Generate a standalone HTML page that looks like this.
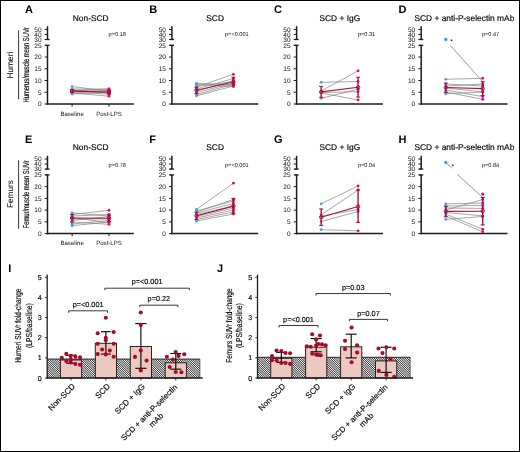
<!DOCTYPE html>
<html><head><meta charset="utf-8"><style>
html,body{margin:0;padding:0;background:#fff;}
svg{display:block;font-family:"Liberation Sans", sans-serif;will-change:transform;text-rendering:geometricPrecision;} text.b{stroke:#000;stroke-width:0.18px;} text.n{stroke:#000;stroke-width:0.08px;}
</style></head><body>
<svg width="520" height="452" viewBox="0 0 520 452">
<defs>
<pattern id="hatch" patternUnits="userSpaceOnUse" width="1.556" height="10" patternTransform="rotate(-45)">
<rect width="1.556" height="10" fill="#fff"/><rect width="0.68" height="10" fill="#111"/>
</pattern>
</defs>
<rect x="0" y="0" width="520" height="452" fill="#fff"/>
<line x1="47.50" y1="104.75" x2="47.50" y2="45.30" stroke="#1c1c1c" stroke-width="1.5" />
<line x1="45.40" y1="45.30" x2="49.60" y2="45.30" stroke="#1c1c1c" stroke-width="1.3" />
<line x1="47.50" y1="26.20" x2="47.50" y2="39.50" stroke="#1c1c1c" stroke-width="1.5" />
<line x1="45.40" y1="39.50" x2="49.60" y2="39.50" stroke="#1c1c1c" stroke-width="1.3" />
<line x1="44.60" y1="104.00" x2="47.50" y2="104.00" stroke="#1c1c1c" stroke-width="1.0" />
<text x="41.50" y="106.30" font-size="6.5" text-anchor="end" font-weight="normal" fill="#111" >0</text>
<line x1="44.60" y1="92.26" x2="47.50" y2="92.26" stroke="#1c1c1c" stroke-width="1.0" />
<text x="41.50" y="94.56" font-size="6.5" text-anchor="end" font-weight="normal" fill="#111" >5</text>
<line x1="44.60" y1="80.52" x2="47.50" y2="80.52" stroke="#1c1c1c" stroke-width="1.0" />
<text x="41.50" y="82.82" font-size="6.5" text-anchor="end" font-weight="normal" fill="#111" >10</text>
<line x1="44.60" y1="68.78" x2="47.50" y2="68.78" stroke="#1c1c1c" stroke-width="1.0" />
<text x="41.50" y="71.08" font-size="6.5" text-anchor="end" font-weight="normal" fill="#111" >15</text>
<line x1="44.60" y1="57.04" x2="47.50" y2="57.04" stroke="#1c1c1c" stroke-width="1.0" />
<text x="41.50" y="59.34" font-size="6.5" text-anchor="end" font-weight="normal" fill="#111" >20</text>
<line x1="44.60" y1="45.30" x2="47.50" y2="45.30" stroke="#1c1c1c" stroke-width="1.0" />
<text x="41.50" y="47.60" font-size="6.5" text-anchor="end" font-weight="normal" fill="#111" >25</text>
<line x1="44.60" y1="29.40" x2="47.50" y2="29.40" stroke="#1c1c1c" stroke-width="1.0" />
<text x="41.50" y="31.70" font-size="6.5" text-anchor="end" font-weight="normal" fill="#111" >50</text>
<line x1="44.60" y1="34.40" x2="47.50" y2="34.40" stroke="#1c1c1c" stroke-width="1.0" />
<text x="41.50" y="36.70" font-size="6.5" text-anchor="end" font-weight="normal" fill="#111" >40</text>
<line x1="44.60" y1="39.50" x2="47.50" y2="39.50" stroke="#1c1c1c" stroke-width="1.0" />
<text x="41.50" y="41.80" font-size="6.5" text-anchor="end" font-weight="normal" fill="#111" >30</text>
<line x1="46.75" y1="104.00" x2="133.80" y2="104.00" stroke="#1c1c1c" stroke-width="1.5" />
<line x1="72.10" y1="104.00" x2="72.10" y2="106.60" stroke="#1c1c1c" stroke-width="1.0" />
<line x1="109.00" y1="104.00" x2="109.00" y2="106.60" stroke="#1c1c1c" stroke-width="1.0" />
<text x="72.10" y="115.70" font-size="6.1" text-anchor="middle" font-weight="normal" fill="#111" >Baseline</text>
<text x="109.00" y="115.70" font-size="6.1" text-anchor="middle" font-weight="normal" fill="#111" >Post-LPS</text>
<text class="b" x="90.70" y="20.80" font-size="8.4" text-anchor="middle" font-weight="normal" fill="#111" >Non-SCD</text>
<text x="24.90" y="13.30" font-size="11.0" text-anchor="start" font-weight="bold" fill="#000" >A</text>
<text x="108.60" y="35.60" font-size="5.6" text-anchor="start" font-weight="normal" fill="#111" >p=0.18</text>
<line x1="72.10" y1="86.60" x2="109.00" y2="91.00" stroke="#7f8380" stroke-width="0.7" />
<line x1="72.10" y1="89.00" x2="109.00" y2="89.20" stroke="#7f8380" stroke-width="0.7" />
<line x1="72.10" y1="90.00" x2="109.00" y2="93.00" stroke="#7f8380" stroke-width="0.7" />
<line x1="72.10" y1="91.00" x2="109.00" y2="90.50" stroke="#7f8380" stroke-width="0.7" />
<line x1="72.10" y1="92.00" x2="109.00" y2="94.20" stroke="#7f8380" stroke-width="0.7" />
<line x1="72.10" y1="93.00" x2="109.00" y2="96.20" stroke="#7f8380" stroke-width="0.7" />
<line x1="72.10" y1="94.00" x2="109.00" y2="92.00" stroke="#7f8380" stroke-width="0.7" />
<line x1="72.10" y1="90.50" x2="109.00" y2="88.90" stroke="#7f8380" stroke-width="0.7" />
<circle cx="72.10" cy="86.60" r="1.4" fill="#4c9be0" stroke="none" stroke-width="0"/>
<circle cx="72.10" cy="89.00" r="1.4" fill="#4c9be0" stroke="none" stroke-width="0"/>
<circle cx="72.10" cy="90.00" r="1.4" fill="#4c9be0" stroke="none" stroke-width="0"/>
<circle cx="72.10" cy="91.00" r="1.4" fill="#4c9be0" stroke="none" stroke-width="0"/>
<circle cx="72.10" cy="92.00" r="1.4" fill="#4c9be0" stroke="none" stroke-width="0"/>
<circle cx="72.10" cy="93.00" r="1.4" fill="#4c9be0" stroke="none" stroke-width="0"/>
<circle cx="72.10" cy="94.00" r="1.4" fill="#4c9be0" stroke="none" stroke-width="0"/>
<circle cx="72.10" cy="90.50" r="1.4" fill="#4c9be0" stroke="none" stroke-width="0"/>
<circle cx="109.00" cy="91.00" r="1.4" fill="#cc0a78" stroke="none" stroke-width="0"/>
<circle cx="109.00" cy="89.20" r="1.4" fill="#cc0a78" stroke="none" stroke-width="0"/>
<circle cx="109.00" cy="93.00" r="1.4" fill="#cc0a78" stroke="none" stroke-width="0"/>
<circle cx="109.00" cy="90.50" r="1.4" fill="#cc0a78" stroke="none" stroke-width="0"/>
<circle cx="109.00" cy="94.20" r="1.4" fill="#cc0a78" stroke="none" stroke-width="0"/>
<circle cx="109.00" cy="96.20" r="1.4" fill="#cc0a78" stroke="none" stroke-width="0"/>
<circle cx="109.00" cy="92.00" r="1.4" fill="#cc0a78" stroke="none" stroke-width="0"/>
<circle cx="109.00" cy="88.90" r="1.4" fill="#cc0a78" stroke="none" stroke-width="0"/>
<line x1="72.10" y1="91.10" x2="109.00" y2="92.10" stroke="#b00e3a" stroke-width="1.15" />
<line x1="72.10" y1="89.60" x2="72.10" y2="92.60" stroke="#b00e3a" stroke-width="1.4" />
<line x1="70.10" y1="89.60" x2="74.10" y2="89.60" stroke="#b00e3a" stroke-width="1.1" />
<line x1="70.10" y1="92.60" x2="74.10" y2="92.60" stroke="#b00e3a" stroke-width="1.1" />
<circle cx="72.10" cy="91.10" r="1.7" fill="none" stroke="#b00e3a" stroke-width="1.0"/>
<line x1="109.00" y1="90.30" x2="109.00" y2="93.90" stroke="#b00e3a" stroke-width="1.4" />
<line x1="107.00" y1="90.30" x2="111.00" y2="90.30" stroke="#b00e3a" stroke-width="1.1" />
<line x1="107.00" y1="93.90" x2="111.00" y2="93.90" stroke="#b00e3a" stroke-width="1.1" />
<circle cx="109.00" cy="92.10" r="1.7" fill="none" stroke="#b00e3a" stroke-width="1.0"/>
<line x1="171.90" y1="104.75" x2="171.90" y2="45.30" stroke="#1c1c1c" stroke-width="1.5" />
<line x1="169.80" y1="45.30" x2="174.00" y2="45.30" stroke="#1c1c1c" stroke-width="1.3" />
<line x1="171.90" y1="26.20" x2="171.90" y2="39.50" stroke="#1c1c1c" stroke-width="1.5" />
<line x1="169.80" y1="39.50" x2="174.00" y2="39.50" stroke="#1c1c1c" stroke-width="1.3" />
<line x1="169.00" y1="104.00" x2="171.90" y2="104.00" stroke="#1c1c1c" stroke-width="1.0" />
<text x="165.90" y="106.30" font-size="6.5" text-anchor="end" font-weight="normal" fill="#111" >0</text>
<line x1="169.00" y1="92.26" x2="171.90" y2="92.26" stroke="#1c1c1c" stroke-width="1.0" />
<text x="165.90" y="94.56" font-size="6.5" text-anchor="end" font-weight="normal" fill="#111" >5</text>
<line x1="169.00" y1="80.52" x2="171.90" y2="80.52" stroke="#1c1c1c" stroke-width="1.0" />
<text x="165.90" y="82.82" font-size="6.5" text-anchor="end" font-weight="normal" fill="#111" >10</text>
<line x1="169.00" y1="68.78" x2="171.90" y2="68.78" stroke="#1c1c1c" stroke-width="1.0" />
<text x="165.90" y="71.08" font-size="6.5" text-anchor="end" font-weight="normal" fill="#111" >15</text>
<line x1="169.00" y1="57.04" x2="171.90" y2="57.04" stroke="#1c1c1c" stroke-width="1.0" />
<text x="165.90" y="59.34" font-size="6.5" text-anchor="end" font-weight="normal" fill="#111" >20</text>
<line x1="169.00" y1="45.30" x2="171.90" y2="45.30" stroke="#1c1c1c" stroke-width="1.0" />
<text x="165.90" y="47.60" font-size="6.5" text-anchor="end" font-weight="normal" fill="#111" >25</text>
<line x1="169.00" y1="29.40" x2="171.90" y2="29.40" stroke="#1c1c1c" stroke-width="1.0" />
<text x="165.90" y="31.70" font-size="6.5" text-anchor="end" font-weight="normal" fill="#111" >50</text>
<line x1="169.00" y1="34.40" x2="171.90" y2="34.40" stroke="#1c1c1c" stroke-width="1.0" />
<text x="165.90" y="36.70" font-size="6.5" text-anchor="end" font-weight="normal" fill="#111" >40</text>
<line x1="169.00" y1="39.50" x2="171.90" y2="39.50" stroke="#1c1c1c" stroke-width="1.0" />
<text x="165.90" y="41.80" font-size="6.5" text-anchor="end" font-weight="normal" fill="#111" >30</text>
<line x1="171.15" y1="104.00" x2="258.20" y2="104.00" stroke="#1c1c1c" stroke-width="1.5" />
<text class="b" x="215.10" y="20.80" font-size="8.4" text-anchor="middle" font-weight="normal" fill="#111" >SCD</text>
<text x="149.30" y="13.30" font-size="11.0" text-anchor="start" font-weight="bold" fill="#000" >B</text>
<text x="225.00" y="35.60" font-size="5.6" text-anchor="start" font-weight="normal" fill="#111" >p=&lt;0.001</text>
<line x1="196.50" y1="83.30" x2="233.40" y2="85.00" stroke="#7f8380" stroke-width="0.7" />
<line x1="196.50" y1="84.50" x2="233.40" y2="86.50" stroke="#7f8380" stroke-width="0.7" />
<line x1="196.50" y1="87.00" x2="233.40" y2="74.30" stroke="#7f8380" stroke-width="0.7" />
<line x1="196.50" y1="89.00" x2="233.40" y2="78.50" stroke="#7f8380" stroke-width="0.7" />
<line x1="196.50" y1="91.00" x2="233.40" y2="80.50" stroke="#7f8380" stroke-width="0.7" />
<line x1="196.50" y1="92.50" x2="233.40" y2="83.00" stroke="#7f8380" stroke-width="0.7" />
<line x1="196.50" y1="94.50" x2="233.40" y2="84.20" stroke="#7f8380" stroke-width="0.7" />
<line x1="196.50" y1="95.80" x2="233.40" y2="86.00" stroke="#7f8380" stroke-width="0.7" />
<line x1="196.50" y1="86.00" x2="233.40" y2="82.00" stroke="#7f8380" stroke-width="0.7" />
<circle cx="196.50" cy="83.30" r="1.4" fill="#4c9be0" stroke="none" stroke-width="0"/>
<circle cx="196.50" cy="84.50" r="1.4" fill="#4c9be0" stroke="none" stroke-width="0"/>
<circle cx="196.50" cy="87.00" r="1.4" fill="#4c9be0" stroke="none" stroke-width="0"/>
<circle cx="196.50" cy="89.00" r="1.4" fill="#4c9be0" stroke="none" stroke-width="0"/>
<circle cx="196.50" cy="91.00" r="1.4" fill="#4c9be0" stroke="none" stroke-width="0"/>
<circle cx="196.50" cy="92.50" r="1.4" fill="#4c9be0" stroke="none" stroke-width="0"/>
<circle cx="196.50" cy="94.50" r="1.4" fill="#4c9be0" stroke="none" stroke-width="0"/>
<circle cx="196.50" cy="95.80" r="1.4" fill="#4c9be0" stroke="none" stroke-width="0"/>
<circle cx="196.50" cy="86.00" r="1.4" fill="#4c9be0" stroke="none" stroke-width="0"/>
<circle cx="233.40" cy="85.00" r="1.4" fill="#cc0a78" stroke="none" stroke-width="0"/>
<circle cx="233.40" cy="86.50" r="1.4" fill="#cc0a78" stroke="none" stroke-width="0"/>
<circle cx="233.40" cy="74.30" r="1.4" fill="#cc0a78" stroke="none" stroke-width="0"/>
<circle cx="233.40" cy="78.50" r="1.4" fill="#cc0a78" stroke="none" stroke-width="0"/>
<circle cx="233.40" cy="80.50" r="1.4" fill="#cc0a78" stroke="none" stroke-width="0"/>
<circle cx="233.40" cy="83.00" r="1.4" fill="#cc0a78" stroke="none" stroke-width="0"/>
<circle cx="233.40" cy="84.20" r="1.4" fill="#cc0a78" stroke="none" stroke-width="0"/>
<circle cx="233.40" cy="86.00" r="1.4" fill="#cc0a78" stroke="none" stroke-width="0"/>
<circle cx="233.40" cy="82.00" r="1.4" fill="#cc0a78" stroke="none" stroke-width="0"/>
<line x1="196.50" y1="90.20" x2="233.40" y2="82.00" stroke="#b00e3a" stroke-width="1.15" />
<line x1="196.50" y1="87.30" x2="196.50" y2="93.60" stroke="#b00e3a" stroke-width="1.4" />
<line x1="194.50" y1="87.30" x2="198.50" y2="87.30" stroke="#b00e3a" stroke-width="1.1" />
<line x1="194.50" y1="93.60" x2="198.50" y2="93.60" stroke="#b00e3a" stroke-width="1.1" />
<circle cx="196.50" cy="90.20" r="1.7" fill="none" stroke="#b00e3a" stroke-width="1.0"/>
<line x1="233.40" y1="77.20" x2="233.40" y2="84.90" stroke="#b00e3a" stroke-width="1.4" />
<line x1="231.40" y1="77.20" x2="235.40" y2="77.20" stroke="#b00e3a" stroke-width="1.1" />
<line x1="231.40" y1="84.90" x2="235.40" y2="84.90" stroke="#b00e3a" stroke-width="1.1" />
<circle cx="233.40" cy="82.00" r="1.7" fill="none" stroke="#b00e3a" stroke-width="1.0"/>
<line x1="296.60" y1="104.75" x2="296.60" y2="45.30" stroke="#1c1c1c" stroke-width="1.5" />
<line x1="294.50" y1="45.30" x2="298.70" y2="45.30" stroke="#1c1c1c" stroke-width="1.3" />
<line x1="296.60" y1="26.20" x2="296.60" y2="39.50" stroke="#1c1c1c" stroke-width="1.5" />
<line x1="294.50" y1="39.50" x2="298.70" y2="39.50" stroke="#1c1c1c" stroke-width="1.3" />
<line x1="293.70" y1="104.00" x2="296.60" y2="104.00" stroke="#1c1c1c" stroke-width="1.0" />
<text x="290.60" y="106.30" font-size="6.5" text-anchor="end" font-weight="normal" fill="#111" >0</text>
<line x1="293.70" y1="92.26" x2="296.60" y2="92.26" stroke="#1c1c1c" stroke-width="1.0" />
<text x="290.60" y="94.56" font-size="6.5" text-anchor="end" font-weight="normal" fill="#111" >5</text>
<line x1="293.70" y1="80.52" x2="296.60" y2="80.52" stroke="#1c1c1c" stroke-width="1.0" />
<text x="290.60" y="82.82" font-size="6.5" text-anchor="end" font-weight="normal" fill="#111" >10</text>
<line x1="293.70" y1="68.78" x2="296.60" y2="68.78" stroke="#1c1c1c" stroke-width="1.0" />
<text x="290.60" y="71.08" font-size="6.5" text-anchor="end" font-weight="normal" fill="#111" >15</text>
<line x1="293.70" y1="57.04" x2="296.60" y2="57.04" stroke="#1c1c1c" stroke-width="1.0" />
<text x="290.60" y="59.34" font-size="6.5" text-anchor="end" font-weight="normal" fill="#111" >20</text>
<line x1="293.70" y1="45.30" x2="296.60" y2="45.30" stroke="#1c1c1c" stroke-width="1.0" />
<text x="290.60" y="47.60" font-size="6.5" text-anchor="end" font-weight="normal" fill="#111" >25</text>
<line x1="293.70" y1="29.40" x2="296.60" y2="29.40" stroke="#1c1c1c" stroke-width="1.0" />
<text x="290.60" y="31.70" font-size="6.5" text-anchor="end" font-weight="normal" fill="#111" >50</text>
<line x1="293.70" y1="34.40" x2="296.60" y2="34.40" stroke="#1c1c1c" stroke-width="1.0" />
<text x="290.60" y="36.70" font-size="6.5" text-anchor="end" font-weight="normal" fill="#111" >40</text>
<line x1="293.70" y1="39.50" x2="296.60" y2="39.50" stroke="#1c1c1c" stroke-width="1.0" />
<text x="290.60" y="41.80" font-size="6.5" text-anchor="end" font-weight="normal" fill="#111" >30</text>
<line x1="295.85" y1="104.00" x2="382.90" y2="104.00" stroke="#1c1c1c" stroke-width="1.5" />
<text class="b" x="339.80" y="20.80" font-size="8.4" text-anchor="middle" font-weight="normal" fill="#111" >SCD + IgG</text>
<text x="274.00" y="13.30" font-size="11.0" text-anchor="start" font-weight="bold" fill="#000" >C</text>
<text x="357.90" y="35.60" font-size="5.6" text-anchor="start" font-weight="normal" fill="#111" >p=0.31</text>
<line x1="321.20" y1="82.30" x2="358.10" y2="81.50" stroke="#7f8380" stroke-width="0.7" />
<line x1="321.20" y1="91.00" x2="358.10" y2="70.80" stroke="#7f8380" stroke-width="0.7" />
<line x1="321.20" y1="98.30" x2="358.10" y2="89.20" stroke="#7f8380" stroke-width="0.7" />
<line x1="321.20" y1="93.00" x2="358.10" y2="100.00" stroke="#7f8380" stroke-width="0.7" />
<line x1="321.20" y1="92.50" x2="358.10" y2="91.70" stroke="#7f8380" stroke-width="0.7" />
<circle cx="321.20" cy="82.30" r="1.4" fill="#4c9be0" stroke="none" stroke-width="0"/>
<circle cx="321.20" cy="91.00" r="1.4" fill="#4c9be0" stroke="none" stroke-width="0"/>
<circle cx="321.20" cy="98.30" r="1.4" fill="#4c9be0" stroke="none" stroke-width="0"/>
<circle cx="321.20" cy="93.00" r="1.4" fill="#4c9be0" stroke="none" stroke-width="0"/>
<circle cx="321.20" cy="92.50" r="1.4" fill="#4c9be0" stroke="none" stroke-width="0"/>
<circle cx="358.10" cy="81.50" r="1.4" fill="#cc0a78" stroke="none" stroke-width="0"/>
<circle cx="358.10" cy="70.80" r="1.4" fill="#cc0a78" stroke="none" stroke-width="0"/>
<circle cx="358.10" cy="89.20" r="1.4" fill="#cc0a78" stroke="none" stroke-width="0"/>
<circle cx="358.10" cy="100.00" r="1.4" fill="#cc0a78" stroke="none" stroke-width="0"/>
<circle cx="358.10" cy="91.70" r="1.4" fill="#cc0a78" stroke="none" stroke-width="0"/>
<line x1="321.20" y1="91.90" x2="358.10" y2="87.30" stroke="#b00e3a" stroke-width="1.15" />
<line x1="321.20" y1="86.40" x2="321.20" y2="97.30" stroke="#b00e3a" stroke-width="1.4" />
<line x1="319.20" y1="86.40" x2="323.20" y2="86.40" stroke="#b00e3a" stroke-width="1.1" />
<line x1="319.20" y1="97.30" x2="323.20" y2="97.30" stroke="#b00e3a" stroke-width="1.1" />
<circle cx="321.20" cy="91.90" r="1.7" fill="none" stroke="#b00e3a" stroke-width="1.0"/>
<line x1="358.10" y1="77.30" x2="358.10" y2="97.10" stroke="#b00e3a" stroke-width="1.4" />
<line x1="356.10" y1="77.30" x2="360.10" y2="77.30" stroke="#b00e3a" stroke-width="1.1" />
<line x1="356.10" y1="97.10" x2="360.10" y2="97.10" stroke="#b00e3a" stroke-width="1.1" />
<circle cx="358.10" cy="87.30" r="1.7" fill="none" stroke="#b00e3a" stroke-width="1.0"/>
<line x1="421.20" y1="104.75" x2="421.20" y2="45.30" stroke="#1c1c1c" stroke-width="1.5" />
<line x1="419.10" y1="45.30" x2="423.30" y2="45.30" stroke="#1c1c1c" stroke-width="1.3" />
<line x1="421.20" y1="26.20" x2="421.20" y2="39.50" stroke="#1c1c1c" stroke-width="1.5" />
<line x1="419.10" y1="39.50" x2="423.30" y2="39.50" stroke="#1c1c1c" stroke-width="1.3" />
<line x1="418.30" y1="104.00" x2="421.20" y2="104.00" stroke="#1c1c1c" stroke-width="1.0" />
<text x="415.20" y="106.30" font-size="6.5" text-anchor="end" font-weight="normal" fill="#111" >0</text>
<line x1="418.30" y1="92.26" x2="421.20" y2="92.26" stroke="#1c1c1c" stroke-width="1.0" />
<text x="415.20" y="94.56" font-size="6.5" text-anchor="end" font-weight="normal" fill="#111" >5</text>
<line x1="418.30" y1="80.52" x2="421.20" y2="80.52" stroke="#1c1c1c" stroke-width="1.0" />
<text x="415.20" y="82.82" font-size="6.5" text-anchor="end" font-weight="normal" fill="#111" >10</text>
<line x1="418.30" y1="68.78" x2="421.20" y2="68.78" stroke="#1c1c1c" stroke-width="1.0" />
<text x="415.20" y="71.08" font-size="6.5" text-anchor="end" font-weight="normal" fill="#111" >15</text>
<line x1="418.30" y1="57.04" x2="421.20" y2="57.04" stroke="#1c1c1c" stroke-width="1.0" />
<text x="415.20" y="59.34" font-size="6.5" text-anchor="end" font-weight="normal" fill="#111" >20</text>
<line x1="418.30" y1="45.30" x2="421.20" y2="45.30" stroke="#1c1c1c" stroke-width="1.0" />
<text x="415.20" y="47.60" font-size="6.5" text-anchor="end" font-weight="normal" fill="#111" >25</text>
<line x1="418.30" y1="29.40" x2="421.20" y2="29.40" stroke="#1c1c1c" stroke-width="1.0" />
<text x="415.20" y="31.70" font-size="6.5" text-anchor="end" font-weight="normal" fill="#111" >50</text>
<line x1="418.30" y1="34.40" x2="421.20" y2="34.40" stroke="#1c1c1c" stroke-width="1.0" />
<text x="415.20" y="36.70" font-size="6.5" text-anchor="end" font-weight="normal" fill="#111" >40</text>
<line x1="418.30" y1="39.50" x2="421.20" y2="39.50" stroke="#1c1c1c" stroke-width="1.0" />
<text x="415.20" y="41.80" font-size="6.5" text-anchor="end" font-weight="normal" fill="#111" >30</text>
<line x1="420.45" y1="104.00" x2="507.50" y2="104.00" stroke="#1c1c1c" stroke-width="1.5" />
<text class="b" x="464.40" y="20.80" font-size="8.4" text-anchor="middle" font-weight="normal" fill="#111" >SCD + anti-P-selectin mAb</text>
<text x="398.60" y="13.30" font-size="11.0" text-anchor="start" font-weight="bold" fill="#000" >D</text>
<text x="481.90" y="35.60" font-size="5.6" text-anchor="start" font-weight="normal" fill="#111" >p=0.47</text>
<line x1="450.23" y1="45.30" x2="482.70" y2="81.70" stroke="#7f8380" stroke-width="0.8" />
<circle cx="445.80" cy="39.50" r="1.7" fill="#4c9be0" stroke="none" stroke-width="0"/>
<text x="451.60" y="42.60" font-size="5.5" text-anchor="middle" font-weight="bold" fill="#000" >*</text>
<line x1="445.80" y1="79.30" x2="482.70" y2="78.30" stroke="#7f8380" stroke-width="0.7" />
<line x1="445.80" y1="84.00" x2="482.70" y2="86.00" stroke="#7f8380" stroke-width="0.7" />
<line x1="445.80" y1="86.00" x2="482.70" y2="84.00" stroke="#7f8380" stroke-width="0.7" />
<line x1="445.80" y1="88.00" x2="482.70" y2="91.80" stroke="#7f8380" stroke-width="0.7" />
<line x1="445.80" y1="90.00" x2="482.70" y2="96.60" stroke="#7f8380" stroke-width="0.7" />
<line x1="445.80" y1="92.00" x2="482.70" y2="99.30" stroke="#7f8380" stroke-width="0.7" />
<line x1="445.80" y1="93.70" x2="482.70" y2="92.00" stroke="#7f8380" stroke-width="0.7" />
<circle cx="445.80" cy="79.30" r="1.4" fill="#4c9be0" stroke="none" stroke-width="0"/>
<circle cx="445.80" cy="84.00" r="1.4" fill="#4c9be0" stroke="none" stroke-width="0"/>
<circle cx="445.80" cy="86.00" r="1.4" fill="#4c9be0" stroke="none" stroke-width="0"/>
<circle cx="445.80" cy="88.00" r="1.4" fill="#4c9be0" stroke="none" stroke-width="0"/>
<circle cx="445.80" cy="90.00" r="1.4" fill="#4c9be0" stroke="none" stroke-width="0"/>
<circle cx="445.80" cy="92.00" r="1.4" fill="#4c9be0" stroke="none" stroke-width="0"/>
<circle cx="445.80" cy="93.70" r="1.4" fill="#4c9be0" stroke="none" stroke-width="0"/>
<circle cx="482.70" cy="78.30" r="1.4" fill="#cc0a78" stroke="none" stroke-width="0"/>
<circle cx="482.70" cy="86.00" r="1.4" fill="#cc0a78" stroke="none" stroke-width="0"/>
<circle cx="482.70" cy="84.00" r="1.4" fill="#cc0a78" stroke="none" stroke-width="0"/>
<circle cx="482.70" cy="91.80" r="1.4" fill="#cc0a78" stroke="none" stroke-width="0"/>
<circle cx="482.70" cy="96.60" r="1.4" fill="#cc0a78" stroke="none" stroke-width="0"/>
<circle cx="482.70" cy="99.30" r="1.4" fill="#cc0a78" stroke="none" stroke-width="0"/>
<circle cx="482.70" cy="92.00" r="1.4" fill="#cc0a78" stroke="none" stroke-width="0"/>
<line x1="445.80" y1="87.50" x2="482.70" y2="88.60" stroke="#b00e3a" stroke-width="1.15" />
<line x1="445.80" y1="83.10" x2="445.80" y2="92.30" stroke="#b00e3a" stroke-width="1.4" />
<line x1="443.80" y1="83.10" x2="447.80" y2="83.10" stroke="#b00e3a" stroke-width="1.1" />
<line x1="443.80" y1="92.30" x2="447.80" y2="92.30" stroke="#b00e3a" stroke-width="1.1" />
<circle cx="445.80" cy="87.50" r="1.7" fill="none" stroke="#b00e3a" stroke-width="1.0"/>
<line x1="482.70" y1="81.70" x2="482.70" y2="95.50" stroke="#b00e3a" stroke-width="1.4" />
<line x1="480.70" y1="81.70" x2="484.70" y2="81.70" stroke="#b00e3a" stroke-width="1.1" />
<line x1="480.70" y1="95.50" x2="484.70" y2="95.50" stroke="#b00e3a" stroke-width="1.1" />
<circle cx="482.70" cy="88.60" r="1.7" fill="none" stroke="#b00e3a" stroke-width="1.0"/>
<line x1="47.50" y1="234.35" x2="47.50" y2="174.90" stroke="#1c1c1c" stroke-width="1.5" />
<line x1="45.40" y1="174.90" x2="49.60" y2="174.90" stroke="#1c1c1c" stroke-width="1.3" />
<line x1="47.50" y1="155.80" x2="47.50" y2="169.10" stroke="#1c1c1c" stroke-width="1.5" />
<line x1="45.40" y1="169.10" x2="49.60" y2="169.10" stroke="#1c1c1c" stroke-width="1.3" />
<line x1="44.60" y1="233.60" x2="47.50" y2="233.60" stroke="#1c1c1c" stroke-width="1.0" />
<text x="41.50" y="235.90" font-size="6.5" text-anchor="end" font-weight="normal" fill="#111" >0</text>
<line x1="44.60" y1="221.86" x2="47.50" y2="221.86" stroke="#1c1c1c" stroke-width="1.0" />
<text x="41.50" y="224.16" font-size="6.5" text-anchor="end" font-weight="normal" fill="#111" >5</text>
<line x1="44.60" y1="210.12" x2="47.50" y2="210.12" stroke="#1c1c1c" stroke-width="1.0" />
<text x="41.50" y="212.42" font-size="6.5" text-anchor="end" font-weight="normal" fill="#111" >10</text>
<line x1="44.60" y1="198.38" x2="47.50" y2="198.38" stroke="#1c1c1c" stroke-width="1.0" />
<text x="41.50" y="200.68" font-size="6.5" text-anchor="end" font-weight="normal" fill="#111" >15</text>
<line x1="44.60" y1="186.64" x2="47.50" y2="186.64" stroke="#1c1c1c" stroke-width="1.0" />
<text x="41.50" y="188.94" font-size="6.5" text-anchor="end" font-weight="normal" fill="#111" >20</text>
<line x1="44.60" y1="174.90" x2="47.50" y2="174.90" stroke="#1c1c1c" stroke-width="1.0" />
<text x="41.50" y="177.20" font-size="6.5" text-anchor="end" font-weight="normal" fill="#111" >25</text>
<line x1="44.60" y1="159.00" x2="47.50" y2="159.00" stroke="#1c1c1c" stroke-width="1.0" />
<text x="41.50" y="161.30" font-size="6.5" text-anchor="end" font-weight="normal" fill="#111" >50</text>
<line x1="44.60" y1="164.00" x2="47.50" y2="164.00" stroke="#1c1c1c" stroke-width="1.0" />
<text x="41.50" y="166.30" font-size="6.5" text-anchor="end" font-weight="normal" fill="#111" >40</text>
<line x1="44.60" y1="169.10" x2="47.50" y2="169.10" stroke="#1c1c1c" stroke-width="1.0" />
<text x="41.50" y="171.40" font-size="6.5" text-anchor="end" font-weight="normal" fill="#111" >30</text>
<line x1="46.75" y1="233.60" x2="133.80" y2="233.60" stroke="#1c1c1c" stroke-width="1.5" />
<line x1="72.10" y1="233.60" x2="72.10" y2="236.20" stroke="#1c1c1c" stroke-width="1.0" />
<line x1="109.00" y1="233.60" x2="109.00" y2="236.20" stroke="#1c1c1c" stroke-width="1.0" />
<text x="72.10" y="245.30" font-size="6.1" text-anchor="middle" font-weight="normal" fill="#111" >Baseline</text>
<text x="109.00" y="245.30" font-size="6.1" text-anchor="middle" font-weight="normal" fill="#111" >Post-LPS</text>
<text class="b" x="90.70" y="150.40" font-size="8.4" text-anchor="middle" font-weight="normal" fill="#111" >Non-SCD</text>
<text x="24.90" y="142.90" font-size="11.0" text-anchor="start" font-weight="bold" fill="#000" >E</text>
<text x="108.60" y="166.60" font-size="5.6" text-anchor="start" font-weight="normal" fill="#111" >p=0.78</text>
<line x1="72.10" y1="212.90" x2="109.00" y2="216.00" stroke="#7f8380" stroke-width="0.7" />
<line x1="72.10" y1="214.50" x2="109.00" y2="210.30" stroke="#7f8380" stroke-width="0.7" />
<line x1="72.10" y1="216.00" x2="109.00" y2="214.50" stroke="#7f8380" stroke-width="0.7" />
<line x1="72.10" y1="217.50" x2="109.00" y2="222.80" stroke="#7f8380" stroke-width="0.7" />
<line x1="72.10" y1="219.00" x2="109.00" y2="219.00" stroke="#7f8380" stroke-width="0.7" />
<line x1="72.10" y1="220.50" x2="109.00" y2="216.50" stroke="#7f8380" stroke-width="0.7" />
<line x1="72.10" y1="222.00" x2="109.00" y2="224.30" stroke="#7f8380" stroke-width="0.7" />
<line x1="72.10" y1="224.00" x2="109.00" y2="220.50" stroke="#7f8380" stroke-width="0.7" />
<line x1="72.10" y1="225.70" x2="109.00" y2="222.00" stroke="#7f8380" stroke-width="0.7" />
<circle cx="72.10" cy="212.90" r="1.4" fill="#4c9be0" stroke="none" stroke-width="0"/>
<circle cx="72.10" cy="214.50" r="1.4" fill="#4c9be0" stroke="none" stroke-width="0"/>
<circle cx="72.10" cy="216.00" r="1.4" fill="#4c9be0" stroke="none" stroke-width="0"/>
<circle cx="72.10" cy="217.50" r="1.4" fill="#4c9be0" stroke="none" stroke-width="0"/>
<circle cx="72.10" cy="219.00" r="1.4" fill="#4c9be0" stroke="none" stroke-width="0"/>
<circle cx="72.10" cy="220.50" r="1.4" fill="#4c9be0" stroke="none" stroke-width="0"/>
<circle cx="72.10" cy="222.00" r="1.4" fill="#4c9be0" stroke="none" stroke-width="0"/>
<circle cx="72.10" cy="224.00" r="1.4" fill="#4c9be0" stroke="none" stroke-width="0"/>
<circle cx="72.10" cy="225.70" r="1.4" fill="#4c9be0" stroke="none" stroke-width="0"/>
<circle cx="109.00" cy="216.00" r="1.4" fill="#cc0a78" stroke="none" stroke-width="0"/>
<circle cx="109.00" cy="210.30" r="1.4" fill="#cc0a78" stroke="none" stroke-width="0"/>
<circle cx="109.00" cy="214.50" r="1.4" fill="#cc0a78" stroke="none" stroke-width="0"/>
<circle cx="109.00" cy="222.80" r="1.4" fill="#cc0a78" stroke="none" stroke-width="0"/>
<circle cx="109.00" cy="219.00" r="1.4" fill="#cc0a78" stroke="none" stroke-width="0"/>
<circle cx="109.00" cy="216.50" r="1.4" fill="#cc0a78" stroke="none" stroke-width="0"/>
<circle cx="109.00" cy="224.30" r="1.4" fill="#cc0a78" stroke="none" stroke-width="0"/>
<circle cx="109.00" cy="220.50" r="1.4" fill="#cc0a78" stroke="none" stroke-width="0"/>
<circle cx="109.00" cy="222.00" r="1.4" fill="#cc0a78" stroke="none" stroke-width="0"/>
<line x1="72.10" y1="218.00" x2="109.00" y2="218.30" stroke="#b00e3a" stroke-width="1.15" />
<line x1="72.10" y1="214.50" x2="72.10" y2="221.90" stroke="#b00e3a" stroke-width="1.4" />
<line x1="70.10" y1="214.50" x2="74.10" y2="214.50" stroke="#b00e3a" stroke-width="1.1" />
<line x1="70.10" y1="221.90" x2="74.10" y2="221.90" stroke="#b00e3a" stroke-width="1.1" />
<circle cx="72.10" cy="218.00" r="1.7" fill="none" stroke="#b00e3a" stroke-width="1.0"/>
<line x1="109.00" y1="215.00" x2="109.00" y2="221.60" stroke="#b00e3a" stroke-width="1.4" />
<line x1="107.00" y1="215.00" x2="111.00" y2="215.00" stroke="#b00e3a" stroke-width="1.1" />
<line x1="107.00" y1="221.60" x2="111.00" y2="221.60" stroke="#b00e3a" stroke-width="1.1" />
<circle cx="109.00" cy="218.30" r="1.7" fill="none" stroke="#b00e3a" stroke-width="1.0"/>
<line x1="171.90" y1="234.35" x2="171.90" y2="174.90" stroke="#1c1c1c" stroke-width="1.5" />
<line x1="169.80" y1="174.90" x2="174.00" y2="174.90" stroke="#1c1c1c" stroke-width="1.3" />
<line x1="171.90" y1="155.80" x2="171.90" y2="169.10" stroke="#1c1c1c" stroke-width="1.5" />
<line x1="169.80" y1="169.10" x2="174.00" y2="169.10" stroke="#1c1c1c" stroke-width="1.3" />
<line x1="169.00" y1="233.60" x2="171.90" y2="233.60" stroke="#1c1c1c" stroke-width="1.0" />
<text x="165.90" y="235.90" font-size="6.5" text-anchor="end" font-weight="normal" fill="#111" >0</text>
<line x1="169.00" y1="221.86" x2="171.90" y2="221.86" stroke="#1c1c1c" stroke-width="1.0" />
<text x="165.90" y="224.16" font-size="6.5" text-anchor="end" font-weight="normal" fill="#111" >5</text>
<line x1="169.00" y1="210.12" x2="171.90" y2="210.12" stroke="#1c1c1c" stroke-width="1.0" />
<text x="165.90" y="212.42" font-size="6.5" text-anchor="end" font-weight="normal" fill="#111" >10</text>
<line x1="169.00" y1="198.38" x2="171.90" y2="198.38" stroke="#1c1c1c" stroke-width="1.0" />
<text x="165.90" y="200.68" font-size="6.5" text-anchor="end" font-weight="normal" fill="#111" >15</text>
<line x1="169.00" y1="186.64" x2="171.90" y2="186.64" stroke="#1c1c1c" stroke-width="1.0" />
<text x="165.90" y="188.94" font-size="6.5" text-anchor="end" font-weight="normal" fill="#111" >20</text>
<line x1="169.00" y1="174.90" x2="171.90" y2="174.90" stroke="#1c1c1c" stroke-width="1.0" />
<text x="165.90" y="177.20" font-size="6.5" text-anchor="end" font-weight="normal" fill="#111" >25</text>
<line x1="169.00" y1="159.00" x2="171.90" y2="159.00" stroke="#1c1c1c" stroke-width="1.0" />
<text x="165.90" y="161.30" font-size="6.5" text-anchor="end" font-weight="normal" fill="#111" >50</text>
<line x1="169.00" y1="164.00" x2="171.90" y2="164.00" stroke="#1c1c1c" stroke-width="1.0" />
<text x="165.90" y="166.30" font-size="6.5" text-anchor="end" font-weight="normal" fill="#111" >40</text>
<line x1="169.00" y1="169.10" x2="171.90" y2="169.10" stroke="#1c1c1c" stroke-width="1.0" />
<text x="165.90" y="171.40" font-size="6.5" text-anchor="end" font-weight="normal" fill="#111" >30</text>
<line x1="171.15" y1="233.60" x2="258.20" y2="233.60" stroke="#1c1c1c" stroke-width="1.5" />
<text class="b" x="215.10" y="150.40" font-size="8.4" text-anchor="middle" font-weight="normal" fill="#111" >SCD</text>
<text x="149.30" y="142.90" font-size="11.0" text-anchor="start" font-weight="bold" fill="#000" >F</text>
<text x="225.00" y="166.60" font-size="5.6" text-anchor="start" font-weight="normal" fill="#111" >p=&lt;0.001</text>
<line x1="196.50" y1="209.40" x2="233.40" y2="183.20" stroke="#7f8380" stroke-width="0.7" />
<line x1="196.50" y1="211.00" x2="233.40" y2="201.00" stroke="#7f8380" stroke-width="0.7" />
<line x1="196.50" y1="213.00" x2="233.40" y2="203.50" stroke="#7f8380" stroke-width="0.7" />
<line x1="196.50" y1="214.50" x2="233.40" y2="206.00" stroke="#7f8380" stroke-width="0.7" />
<line x1="196.50" y1="216.50" x2="233.40" y2="208.00" stroke="#7f8380" stroke-width="0.7" />
<line x1="196.50" y1="218.00" x2="233.40" y2="210.00" stroke="#7f8380" stroke-width="0.7" />
<line x1="196.50" y1="219.50" x2="233.40" y2="212.00" stroke="#7f8380" stroke-width="0.7" />
<line x1="196.50" y1="221.00" x2="233.40" y2="214.00" stroke="#7f8380" stroke-width="0.7" />
<line x1="196.50" y1="212.00" x2="233.40" y2="199.50" stroke="#7f8380" stroke-width="0.7" />
<circle cx="196.50" cy="209.40" r="1.4" fill="#4c9be0" stroke="none" stroke-width="0"/>
<circle cx="196.50" cy="211.00" r="1.4" fill="#4c9be0" stroke="none" stroke-width="0"/>
<circle cx="196.50" cy="213.00" r="1.4" fill="#4c9be0" stroke="none" stroke-width="0"/>
<circle cx="196.50" cy="214.50" r="1.4" fill="#4c9be0" stroke="none" stroke-width="0"/>
<circle cx="196.50" cy="216.50" r="1.4" fill="#4c9be0" stroke="none" stroke-width="0"/>
<circle cx="196.50" cy="218.00" r="1.4" fill="#4c9be0" stroke="none" stroke-width="0"/>
<circle cx="196.50" cy="219.50" r="1.4" fill="#4c9be0" stroke="none" stroke-width="0"/>
<circle cx="196.50" cy="221.00" r="1.4" fill="#4c9be0" stroke="none" stroke-width="0"/>
<circle cx="196.50" cy="212.00" r="1.4" fill="#4c9be0" stroke="none" stroke-width="0"/>
<circle cx="233.40" cy="183.20" r="1.4" fill="#cc0a78" stroke="none" stroke-width="0"/>
<circle cx="233.40" cy="201.00" r="1.4" fill="#cc0a78" stroke="none" stroke-width="0"/>
<circle cx="233.40" cy="203.50" r="1.4" fill="#cc0a78" stroke="none" stroke-width="0"/>
<circle cx="233.40" cy="206.00" r="1.4" fill="#cc0a78" stroke="none" stroke-width="0"/>
<circle cx="233.40" cy="208.00" r="1.4" fill="#cc0a78" stroke="none" stroke-width="0"/>
<circle cx="233.40" cy="210.00" r="1.4" fill="#cc0a78" stroke="none" stroke-width="0"/>
<circle cx="233.40" cy="212.00" r="1.4" fill="#cc0a78" stroke="none" stroke-width="0"/>
<circle cx="233.40" cy="214.00" r="1.4" fill="#cc0a78" stroke="none" stroke-width="0"/>
<circle cx="233.40" cy="199.50" r="1.4" fill="#cc0a78" stroke="none" stroke-width="0"/>
<line x1="196.50" y1="215.70" x2="233.40" y2="206.10" stroke="#b00e3a" stroke-width="1.15" />
<line x1="196.50" y1="212.30" x2="196.50" y2="219.50" stroke="#b00e3a" stroke-width="1.4" />
<line x1="194.50" y1="212.30" x2="198.50" y2="212.30" stroke="#b00e3a" stroke-width="1.1" />
<line x1="194.50" y1="219.50" x2="198.50" y2="219.50" stroke="#b00e3a" stroke-width="1.1" />
<circle cx="196.50" cy="215.70" r="1.7" fill="none" stroke="#b00e3a" stroke-width="1.0"/>
<line x1="233.40" y1="198.40" x2="233.40" y2="213.60" stroke="#b00e3a" stroke-width="1.4" />
<line x1="231.40" y1="198.40" x2="235.40" y2="198.40" stroke="#b00e3a" stroke-width="1.1" />
<line x1="231.40" y1="213.60" x2="235.40" y2="213.60" stroke="#b00e3a" stroke-width="1.1" />
<circle cx="233.40" cy="206.10" r="1.7" fill="none" stroke="#b00e3a" stroke-width="1.0"/>
<line x1="296.60" y1="234.35" x2="296.60" y2="174.90" stroke="#1c1c1c" stroke-width="1.5" />
<line x1="294.50" y1="174.90" x2="298.70" y2="174.90" stroke="#1c1c1c" stroke-width="1.3" />
<line x1="296.60" y1="155.80" x2="296.60" y2="169.10" stroke="#1c1c1c" stroke-width="1.5" />
<line x1="294.50" y1="169.10" x2="298.70" y2="169.10" stroke="#1c1c1c" stroke-width="1.3" />
<line x1="293.70" y1="233.60" x2="296.60" y2="233.60" stroke="#1c1c1c" stroke-width="1.0" />
<text x="290.60" y="235.90" font-size="6.5" text-anchor="end" font-weight="normal" fill="#111" >0</text>
<line x1="293.70" y1="221.86" x2="296.60" y2="221.86" stroke="#1c1c1c" stroke-width="1.0" />
<text x="290.60" y="224.16" font-size="6.5" text-anchor="end" font-weight="normal" fill="#111" >5</text>
<line x1="293.70" y1="210.12" x2="296.60" y2="210.12" stroke="#1c1c1c" stroke-width="1.0" />
<text x="290.60" y="212.42" font-size="6.5" text-anchor="end" font-weight="normal" fill="#111" >10</text>
<line x1="293.70" y1="198.38" x2="296.60" y2="198.38" stroke="#1c1c1c" stroke-width="1.0" />
<text x="290.60" y="200.68" font-size="6.5" text-anchor="end" font-weight="normal" fill="#111" >15</text>
<line x1="293.70" y1="186.64" x2="296.60" y2="186.64" stroke="#1c1c1c" stroke-width="1.0" />
<text x="290.60" y="188.94" font-size="6.5" text-anchor="end" font-weight="normal" fill="#111" >20</text>
<line x1="293.70" y1="174.90" x2="296.60" y2="174.90" stroke="#1c1c1c" stroke-width="1.0" />
<text x="290.60" y="177.20" font-size="6.5" text-anchor="end" font-weight="normal" fill="#111" >25</text>
<line x1="293.70" y1="159.00" x2="296.60" y2="159.00" stroke="#1c1c1c" stroke-width="1.0" />
<text x="290.60" y="161.30" font-size="6.5" text-anchor="end" font-weight="normal" fill="#111" >50</text>
<line x1="293.70" y1="164.00" x2="296.60" y2="164.00" stroke="#1c1c1c" stroke-width="1.0" />
<text x="290.60" y="166.30" font-size="6.5" text-anchor="end" font-weight="normal" fill="#111" >40</text>
<line x1="293.70" y1="169.10" x2="296.60" y2="169.10" stroke="#1c1c1c" stroke-width="1.0" />
<text x="290.60" y="171.40" font-size="6.5" text-anchor="end" font-weight="normal" fill="#111" >30</text>
<line x1="295.85" y1="233.60" x2="382.90" y2="233.60" stroke="#1c1c1c" stroke-width="1.5" />
<text class="b" x="339.80" y="150.40" font-size="8.4" text-anchor="middle" font-weight="normal" fill="#111" >SCD + IgG</text>
<text x="274.00" y="142.90" font-size="11.0" text-anchor="start" font-weight="bold" fill="#000" >G</text>
<text x="357.90" y="166.60" font-size="5.6" text-anchor="start" font-weight="normal" fill="#111" >p=0.04</text>
<line x1="321.20" y1="203.80" x2="358.10" y2="186.00" stroke="#7f8380" stroke-width="0.7" />
<line x1="321.20" y1="214.80" x2="358.10" y2="190.00" stroke="#7f8380" stroke-width="0.7" />
<line x1="321.20" y1="216.00" x2="358.10" y2="209.50" stroke="#7f8380" stroke-width="0.7" />
<line x1="321.20" y1="221.50" x2="358.10" y2="211.50" stroke="#7f8380" stroke-width="0.7" />
<line x1="321.20" y1="229.70" x2="358.10" y2="230.80" stroke="#7f8380" stroke-width="0.7" />
<circle cx="321.20" cy="203.80" r="1.4" fill="#4c9be0" stroke="none" stroke-width="0"/>
<circle cx="321.20" cy="214.80" r="1.4" fill="#4c9be0" stroke="none" stroke-width="0"/>
<circle cx="321.20" cy="216.00" r="1.4" fill="#4c9be0" stroke="none" stroke-width="0"/>
<circle cx="321.20" cy="221.50" r="1.4" fill="#4c9be0" stroke="none" stroke-width="0"/>
<circle cx="321.20" cy="229.70" r="1.4" fill="#4c9be0" stroke="none" stroke-width="0"/>
<circle cx="358.10" cy="186.00" r="1.4" fill="#cc0a78" stroke="none" stroke-width="0"/>
<circle cx="358.10" cy="190.00" r="1.4" fill="#cc0a78" stroke="none" stroke-width="0"/>
<circle cx="358.10" cy="209.50" r="1.4" fill="#cc0a78" stroke="none" stroke-width="0"/>
<circle cx="358.10" cy="211.50" r="1.4" fill="#cc0a78" stroke="none" stroke-width="0"/>
<circle cx="358.10" cy="230.80" r="1.4" fill="#cc0a78" stroke="none" stroke-width="0"/>
<line x1="321.20" y1="217.20" x2="358.10" y2="206.50" stroke="#b00e3a" stroke-width="1.15" />
<line x1="321.20" y1="208.90" x2="321.20" y2="225.50" stroke="#b00e3a" stroke-width="1.4" />
<line x1="319.20" y1="208.90" x2="323.20" y2="208.90" stroke="#b00e3a" stroke-width="1.1" />
<line x1="319.20" y1="225.50" x2="323.20" y2="225.50" stroke="#b00e3a" stroke-width="1.1" />
<circle cx="321.20" cy="217.20" r="1.7" fill="none" stroke="#b00e3a" stroke-width="1.0"/>
<line x1="358.10" y1="190.00" x2="358.10" y2="222.40" stroke="#b00e3a" stroke-width="1.4" />
<line x1="356.10" y1="190.00" x2="360.10" y2="190.00" stroke="#b00e3a" stroke-width="1.1" />
<line x1="356.10" y1="222.40" x2="360.10" y2="222.40" stroke="#b00e3a" stroke-width="1.1" />
<circle cx="358.10" cy="206.50" r="1.7" fill="none" stroke="#b00e3a" stroke-width="1.0"/>
<line x1="421.20" y1="234.35" x2="421.20" y2="174.90" stroke="#1c1c1c" stroke-width="1.5" />
<line x1="419.10" y1="174.90" x2="423.30" y2="174.90" stroke="#1c1c1c" stroke-width="1.3" />
<line x1="421.20" y1="155.80" x2="421.20" y2="169.10" stroke="#1c1c1c" stroke-width="1.5" />
<line x1="419.10" y1="169.10" x2="423.30" y2="169.10" stroke="#1c1c1c" stroke-width="1.3" />
<line x1="418.30" y1="233.60" x2="421.20" y2="233.60" stroke="#1c1c1c" stroke-width="1.0" />
<text x="415.20" y="235.90" font-size="6.5" text-anchor="end" font-weight="normal" fill="#111" >0</text>
<line x1="418.30" y1="221.86" x2="421.20" y2="221.86" stroke="#1c1c1c" stroke-width="1.0" />
<text x="415.20" y="224.16" font-size="6.5" text-anchor="end" font-weight="normal" fill="#111" >5</text>
<line x1="418.30" y1="210.12" x2="421.20" y2="210.12" stroke="#1c1c1c" stroke-width="1.0" />
<text x="415.20" y="212.42" font-size="6.5" text-anchor="end" font-weight="normal" fill="#111" >10</text>
<line x1="418.30" y1="198.38" x2="421.20" y2="198.38" stroke="#1c1c1c" stroke-width="1.0" />
<text x="415.20" y="200.68" font-size="6.5" text-anchor="end" font-weight="normal" fill="#111" >15</text>
<line x1="418.30" y1="186.64" x2="421.20" y2="186.64" stroke="#1c1c1c" stroke-width="1.0" />
<text x="415.20" y="188.94" font-size="6.5" text-anchor="end" font-weight="normal" fill="#111" >20</text>
<line x1="418.30" y1="174.90" x2="421.20" y2="174.90" stroke="#1c1c1c" stroke-width="1.0" />
<text x="415.20" y="177.20" font-size="6.5" text-anchor="end" font-weight="normal" fill="#111" >25</text>
<line x1="418.30" y1="159.00" x2="421.20" y2="159.00" stroke="#1c1c1c" stroke-width="1.0" />
<text x="415.20" y="161.30" font-size="6.5" text-anchor="end" font-weight="normal" fill="#111" >50</text>
<line x1="418.30" y1="164.00" x2="421.20" y2="164.00" stroke="#1c1c1c" stroke-width="1.0" />
<text x="415.20" y="166.30" font-size="6.5" text-anchor="end" font-weight="normal" fill="#111" >40</text>
<line x1="418.30" y1="169.10" x2="421.20" y2="169.10" stroke="#1c1c1c" stroke-width="1.0" />
<text x="415.20" y="171.40" font-size="6.5" text-anchor="end" font-weight="normal" fill="#111" >30</text>
<line x1="420.45" y1="233.60" x2="507.50" y2="233.60" stroke="#1c1c1c" stroke-width="1.5" />
<text class="b" x="464.40" y="150.40" font-size="8.4" text-anchor="middle" font-weight="normal" fill="#111" >SCD + anti-P-selectin mAb</text>
<text x="398.60" y="142.90" font-size="11.0" text-anchor="start" font-weight="bold" fill="#000" >H</text>
<text x="481.90" y="166.60" font-size="5.6" text-anchor="start" font-weight="normal" fill="#111" >p=0.84</text>
<line x1="445.80" y1="162.50" x2="452.00" y2="168.30" stroke="#7f8380" stroke-width="0.8" />
<line x1="457.50" y1="174.60" x2="482.70" y2="197.50" stroke="#7f8380" stroke-width="0.8" />
<circle cx="445.80" cy="162.50" r="1.7" fill="#4c9be0" stroke="none" stroke-width="0"/>
<text x="452.70" y="167.80" font-size="5.5" text-anchor="middle" font-weight="bold" fill="#000" >*</text>
<circle cx="482.70" cy="194.00" r="1.6" fill="#cc0a78" stroke="none" stroke-width="0"/>
<line x1="445.80" y1="203.90" x2="482.70" y2="203.00" stroke="#7f8380" stroke-width="0.7" />
<line x1="445.80" y1="206.00" x2="482.70" y2="205.40" stroke="#7f8380" stroke-width="0.7" />
<line x1="445.80" y1="208.00" x2="482.70" y2="208.40" stroke="#7f8380" stroke-width="0.7" />
<line x1="445.80" y1="210.00" x2="482.70" y2="199.50" stroke="#7f8380" stroke-width="0.7" />
<line x1="445.80" y1="212.50" x2="482.70" y2="215.90" stroke="#7f8380" stroke-width="0.7" />
<line x1="445.80" y1="214.00" x2="482.70" y2="229.30" stroke="#7f8380" stroke-width="0.7" />
<line x1="445.80" y1="216.00" x2="482.70" y2="231.80" stroke="#7f8380" stroke-width="0.7" />
<line x1="445.80" y1="219.40" x2="482.70" y2="216.50" stroke="#7f8380" stroke-width="0.7" />
<circle cx="445.80" cy="203.90" r="1.4" fill="#4c9be0" stroke="none" stroke-width="0"/>
<circle cx="445.80" cy="206.00" r="1.4" fill="#4c9be0" stroke="none" stroke-width="0"/>
<circle cx="445.80" cy="208.00" r="1.4" fill="#4c9be0" stroke="none" stroke-width="0"/>
<circle cx="445.80" cy="210.00" r="1.4" fill="#4c9be0" stroke="none" stroke-width="0"/>
<circle cx="445.80" cy="212.50" r="1.4" fill="#4c9be0" stroke="none" stroke-width="0"/>
<circle cx="445.80" cy="214.00" r="1.4" fill="#4c9be0" stroke="none" stroke-width="0"/>
<circle cx="445.80" cy="216.00" r="1.4" fill="#4c9be0" stroke="none" stroke-width="0"/>
<circle cx="445.80" cy="219.40" r="1.4" fill="#4c9be0" stroke="none" stroke-width="0"/>
<circle cx="482.70" cy="203.00" r="1.4" fill="#cc0a78" stroke="none" stroke-width="0"/>
<circle cx="482.70" cy="205.40" r="1.4" fill="#cc0a78" stroke="none" stroke-width="0"/>
<circle cx="482.70" cy="208.40" r="1.4" fill="#cc0a78" stroke="none" stroke-width="0"/>
<circle cx="482.70" cy="199.50" r="1.4" fill="#cc0a78" stroke="none" stroke-width="0"/>
<circle cx="482.70" cy="215.90" r="1.4" fill="#cc0a78" stroke="none" stroke-width="0"/>
<circle cx="482.70" cy="229.30" r="1.4" fill="#cc0a78" stroke="none" stroke-width="0"/>
<circle cx="482.70" cy="231.80" r="1.4" fill="#cc0a78" stroke="none" stroke-width="0"/>
<circle cx="482.70" cy="216.50" r="1.4" fill="#cc0a78" stroke="none" stroke-width="0"/>
<line x1="445.80" y1="211.40" x2="482.70" y2="211.20" stroke="#b00e3a" stroke-width="1.15" />
<line x1="445.80" y1="206.40" x2="445.80" y2="216.70" stroke="#b00e3a" stroke-width="1.4" />
<line x1="443.80" y1="206.40" x2="447.80" y2="206.40" stroke="#b00e3a" stroke-width="1.1" />
<line x1="443.80" y1="216.70" x2="447.80" y2="216.70" stroke="#b00e3a" stroke-width="1.1" />
<circle cx="445.80" cy="211.40" r="1.7" fill="none" stroke="#b00e3a" stroke-width="1.0"/>
<line x1="482.70" y1="197.50" x2="482.70" y2="224.90" stroke="#b00e3a" stroke-width="1.4" />
<line x1="480.70" y1="197.50" x2="484.70" y2="197.50" stroke="#b00e3a" stroke-width="1.1" />
<line x1="480.70" y1="224.90" x2="484.70" y2="224.90" stroke="#b00e3a" stroke-width="1.1" />
<circle cx="482.70" cy="211.20" r="1.7" fill="none" stroke="#b00e3a" stroke-width="1.0"/>
<text class="n" transform="translate(13.40,65.10) rotate(-90)" font-size="8.4" text-anchor="middle" font-weight="normal" fill="#111" >Humeri</text>
<line x1="18.60" y1="30.20" x2="18.60" y2="99.30" stroke="#222" stroke-width="0.9" />
<text class="b" transform="translate(29.00,102.40) rotate(-90)" font-size="8.5" text-anchor="start" font-weight="normal" fill="#111" textLength="74.9" lengthAdjust="spacingAndGlyphs">Humerus/muscle mean SUVr</text>
<text class="n" transform="translate(13.40,194.10) rotate(-90)" font-size="8.2" text-anchor="middle" font-weight="normal" fill="#111" >Femurs</text>
<line x1="18.60" y1="160.20" x2="18.60" y2="228.80" stroke="#222" stroke-width="0.9" />
<text class="b" transform="translate(29.00,228.20) rotate(-90)" font-size="8.5" text-anchor="start" font-weight="normal" fill="#111" textLength="67.6" lengthAdjust="spacingAndGlyphs">Femur/muscle mean SUVr</text>
<rect x="47.20" y="359.10" width="152.70" height="18.90" fill="url(#hatch)"/>
<line x1="47.20" y1="359.10" x2="199.90" y2="359.10" stroke="#222" stroke-width="1.0" />
<line x1="199.90" y1="359.10" x2="199.90" y2="378.00" stroke="#222" stroke-width="0.6" />
<rect x="60.40" y="360.00" width="21.2" height="18.00" fill="#ecc9bf" stroke="#2a2222" stroke-width="1.0"/>
<rect x="95.30" y="343.30" width="21.2" height="34.70" fill="#ecc9bf" stroke="#2a2222" stroke-width="1.0"/>
<rect x="130.30" y="346.50" width="21.2" height="31.50" fill="#ecc9bf" stroke="#2a2222" stroke-width="1.0"/>
<rect x="165.20" y="362.80" width="21.2" height="15.20" fill="#ecc9bf" stroke="#2a2222" stroke-width="1.0"/>
<line x1="71.00" y1="355.20" x2="71.00" y2="363.20" stroke="#000" stroke-width="1.1" />
<line x1="66.20" y1="355.20" x2="75.80" y2="355.20" stroke="#000" stroke-width="1.1" />
<line x1="66.20" y1="363.20" x2="75.80" y2="363.20" stroke="#000" stroke-width="1.1" />
<line x1="105.90" y1="331.70" x2="105.90" y2="354.10" stroke="#000" stroke-width="1.1" />
<line x1="101.00" y1="331.70" x2="110.80" y2="331.70" stroke="#000" stroke-width="1.1" />
<line x1="101.00" y1="354.10" x2="110.80" y2="354.10" stroke="#000" stroke-width="1.1" />
<line x1="140.90" y1="323.60" x2="140.90" y2="368.30" stroke="#000" stroke-width="1.1" />
<line x1="135.30" y1="323.60" x2="146.50" y2="323.60" stroke="#000" stroke-width="1.1" />
<line x1="135.30" y1="368.30" x2="146.50" y2="368.30" stroke="#000" stroke-width="1.1" />
<line x1="175.80" y1="353.50" x2="175.80" y2="369.20" stroke="#000" stroke-width="1.1" />
<line x1="170.30" y1="353.50" x2="181.30" y2="353.50" stroke="#000" stroke-width="1.1" />
<line x1="170.30" y1="369.20" x2="181.30" y2="369.20" stroke="#000" stroke-width="1.1" />
<circle cx="61.80" cy="357.80" r="2.05" fill="#a8082a" stroke="none" stroke-width="0"/>
<circle cx="66.30" cy="353.90" r="2.05" fill="#a8082a" stroke="none" stroke-width="0"/>
<circle cx="66.30" cy="360.90" r="2.05" fill="#a8082a" stroke="none" stroke-width="0"/>
<circle cx="70.70" cy="355.90" r="2.05" fill="#a8082a" stroke="none" stroke-width="0"/>
<circle cx="70.70" cy="362.40" r="2.05" fill="#a8082a" stroke="none" stroke-width="0"/>
<circle cx="75.40" cy="356.60" r="2.05" fill="#a8082a" stroke="none" stroke-width="0"/>
<circle cx="75.40" cy="364.00" r="2.05" fill="#a8082a" stroke="none" stroke-width="0"/>
<circle cx="80.00" cy="357.40" r="2.05" fill="#a8082a" stroke="none" stroke-width="0"/>
<circle cx="80.00" cy="364.80" r="2.05" fill="#a8082a" stroke="none" stroke-width="0"/>
<circle cx="70.70" cy="359.50" r="2.05" fill="#a8082a" stroke="none" stroke-width="0"/>
<circle cx="105.80" cy="317.70" r="2.05" fill="#a8082a" stroke="none" stroke-width="0"/>
<circle cx="97.70" cy="333.20" r="2.05" fill="#a8082a" stroke="none" stroke-width="0"/>
<circle cx="113.70" cy="332.10" r="2.05" fill="#a8082a" stroke="none" stroke-width="0"/>
<circle cx="105.80" cy="337.90" r="2.05" fill="#a8082a" stroke="none" stroke-width="0"/>
<circle cx="105.80" cy="340.20" r="2.05" fill="#a8082a" stroke="none" stroke-width="0"/>
<circle cx="97.70" cy="343.70" r="2.05" fill="#a8082a" stroke="none" stroke-width="0"/>
<circle cx="113.70" cy="343.70" r="2.05" fill="#a8082a" stroke="none" stroke-width="0"/>
<circle cx="102.10" cy="349.50" r="2.05" fill="#a8082a" stroke="none" stroke-width="0"/>
<circle cx="109.80" cy="350.60" r="2.05" fill="#a8082a" stroke="none" stroke-width="0"/>
<circle cx="97.70" cy="354.10" r="2.05" fill="#a8082a" stroke="none" stroke-width="0"/>
<circle cx="105.80" cy="354.40" r="2.05" fill="#a8082a" stroke="none" stroke-width="0"/>
<circle cx="113.70" cy="356.70" r="2.05" fill="#a8082a" stroke="none" stroke-width="0"/>
<circle cx="140.80" cy="312.50" r="2.05" fill="#a8082a" stroke="none" stroke-width="0"/>
<circle cx="140.80" cy="324.90" r="2.05" fill="#a8082a" stroke="none" stroke-width="0"/>
<circle cx="140.80" cy="350.60" r="2.05" fill="#a8082a" stroke="none" stroke-width="0"/>
<circle cx="135.00" cy="356.90" r="2.05" fill="#a8082a" stroke="none" stroke-width="0"/>
<circle cx="146.60" cy="360.60" r="2.05" fill="#a8082a" stroke="none" stroke-width="0"/>
<circle cx="140.80" cy="370.50" r="2.05" fill="#a8082a" stroke="none" stroke-width="0"/>
<circle cx="175.70" cy="352.00" r="2.05" fill="#a8082a" stroke="none" stroke-width="0"/>
<circle cx="184.30" cy="354.30" r="2.05" fill="#a8082a" stroke="none" stroke-width="0"/>
<circle cx="166.90" cy="356.80" r="2.05" fill="#a8082a" stroke="none" stroke-width="0"/>
<circle cx="178.60" cy="355.90" r="2.05" fill="#a8082a" stroke="none" stroke-width="0"/>
<circle cx="172.80" cy="359.50" r="2.05" fill="#a8082a" stroke="none" stroke-width="0"/>
<circle cx="169.70" cy="367.00" r="2.05" fill="#a8082a" stroke="none" stroke-width="0"/>
<circle cx="175.70" cy="372.00" r="2.05" fill="#a8082a" stroke="none" stroke-width="0"/>
<circle cx="181.40" cy="372.30" r="2.05" fill="#a8082a" stroke="none" stroke-width="0"/>
<line x1="47.20" y1="274.60" x2="47.20" y2="378.60" stroke="#1c1c1c" stroke-width="1.3" />
<line x1="46.60" y1="378.00" x2="202.70" y2="378.00" stroke="#1c1c1c" stroke-width="1.3" />
<line x1="45.00" y1="378.00" x2="47.20" y2="378.00" stroke="#1c1c1c" stroke-width="0.9" />
<text class="b" x="41.80" y="380.55" font-size="7.1" text-anchor="end" font-weight="normal" fill="#111" >0</text>
<line x1="45.00" y1="357.85" x2="47.20" y2="357.85" stroke="#1c1c1c" stroke-width="0.9" />
<text class="b" x="41.80" y="360.40" font-size="7.1" text-anchor="end" font-weight="normal" fill="#111" >1</text>
<line x1="45.00" y1="337.70" x2="47.20" y2="337.70" stroke="#1c1c1c" stroke-width="0.9" />
<text class="b" x="41.80" y="340.25" font-size="7.1" text-anchor="end" font-weight="normal" fill="#111" >2</text>
<line x1="45.00" y1="317.55" x2="47.20" y2="317.55" stroke="#1c1c1c" stroke-width="0.9" />
<text class="b" x="41.80" y="320.10" font-size="7.1" text-anchor="end" font-weight="normal" fill="#111" >3</text>
<line x1="45.00" y1="297.40" x2="47.20" y2="297.40" stroke="#1c1c1c" stroke-width="0.9" />
<text class="b" x="41.80" y="299.95" font-size="7.1" text-anchor="end" font-weight="normal" fill="#111" >4</text>
<line x1="45.00" y1="277.25" x2="47.20" y2="277.25" stroke="#1c1c1c" stroke-width="0.9" />
<text class="b" x="41.80" y="279.80" font-size="7.1" text-anchor="end" font-weight="normal" fill="#111" >5</text>
<line x1="71.00" y1="378.00" x2="71.00" y2="380.40" stroke="#1c1c1c" stroke-width="0.9" />
<line x1="105.90" y1="378.00" x2="105.90" y2="380.40" stroke="#1c1c1c" stroke-width="0.9" />
<line x1="140.90" y1="378.00" x2="140.90" y2="380.40" stroke="#1c1c1c" stroke-width="0.9" />
<line x1="175.80" y1="378.00" x2="175.80" y2="380.40" stroke="#1c1c1c" stroke-width="0.9" />
<path d="M68.70,312.80 L68.70,310.80 L107.50,310.80 L107.50,312.80" fill="none" stroke="#222" stroke-width="0.9"/>
<text class="b" x="88.10" y="306.70" font-size="7.3" text-anchor="middle" font-weight="normal" fill="#111" >p=&lt;0.001</text>
<path d="M104.80,290.20 L104.80,288.20 L189.40,288.20 L189.40,290.20" fill="none" stroke="#222" stroke-width="0.9"/>
<text class="b" x="147.10" y="284.00" font-size="7.3" text-anchor="middle" font-weight="normal" fill="#111" >p=&lt;0.001</text>
<path d="M139.80,307.20 L139.80,305.20 L177.90,305.20 L177.90,307.20" fill="none" stroke="#222" stroke-width="0.9"/>
<text class="b" x="158.85" y="301.30" font-size="7.3" text-anchor="middle" font-weight="normal" fill="#111" >p=0.22</text>
<text class="b" transform="translate(75.60,387.0) rotate(-45)" font-size="8.0" text-anchor="end" fill="#111">Non-SCD</text>
<text class="b" transform="translate(110.50,387.0) rotate(-45)" font-size="8.0" text-anchor="end" fill="#111">SCD</text>
<text class="b" transform="translate(145.50,387.0) rotate(-45)" font-size="8.0" text-anchor="end" fill="#111">SCD + IgG</text>
<text class="b" transform="translate(177.80,387.6) rotate(-45)" font-size="7.9" text-anchor="end" fill="#111">SCD + anti-P-selectin</text>
<text class="b" transform="translate(163.80,416.2) rotate(-45)" font-size="7.9" text-anchor="end" fill="#111">mAb</text>
<text class="b" transform="translate(21.30,325.60) rotate(-90)" font-size="8.6" text-anchor="middle" font-weight="normal" fill="#111" textLength="74.2" lengthAdjust="spacingAndGlyphs">Humeri SUVr fold-change</text>
<text class="b" transform="translate(31.90,325.60) rotate(-90)" font-size="8.6" text-anchor="middle" font-weight="normal" fill="#111" textLength="45.0" lengthAdjust="spacingAndGlyphs">(LPS/baseline)</text>
<text x="8.20" y="272.10" font-size="11" text-anchor="start" font-weight="bold" fill="#000" >I</text>
<rect x="257.50" y="357.30" width="152.70" height="20.70" fill="url(#hatch)"/>
<line x1="257.50" y1="357.30" x2="410.20" y2="357.30" stroke="#222" stroke-width="1.0" />
<line x1="410.20" y1="357.30" x2="410.20" y2="378.00" stroke="#222" stroke-width="0.6" />
<rect x="270.70" y="358.30" width="21.2" height="19.70" fill="#ecc9bf" stroke="#2a2222" stroke-width="1.0"/>
<rect x="305.60" y="347.20" width="21.2" height="30.80" fill="#ecc9bf" stroke="#2a2222" stroke-width="1.0"/>
<rect x="340.60" y="346.80" width="21.2" height="31.20" fill="#ecc9bf" stroke="#2a2222" stroke-width="1.0"/>
<rect x="375.50" y="360.90" width="21.2" height="17.10" fill="#ecc9bf" stroke="#2a2222" stroke-width="1.0"/>
<line x1="281.30" y1="352.40" x2="281.30" y2="362.30" stroke="#000" stroke-width="1.1" />
<line x1="276.30" y1="352.40" x2="286.30" y2="352.40" stroke="#000" stroke-width="1.1" />
<line x1="276.30" y1="362.30" x2="286.30" y2="362.30" stroke="#000" stroke-width="1.1" />
<line x1="316.20" y1="338.60" x2="316.20" y2="351.80" stroke="#000" stroke-width="1.1" />
<line x1="310.60" y1="338.60" x2="321.80" y2="338.60" stroke="#000" stroke-width="1.1" />
<line x1="310.60" y1="351.80" x2="321.80" y2="351.80" stroke="#000" stroke-width="1.1" />
<line x1="351.20" y1="334.20" x2="351.20" y2="357.90" stroke="#000" stroke-width="1.1" />
<line x1="345.70" y1="334.20" x2="356.70" y2="334.20" stroke="#000" stroke-width="1.1" />
<line x1="345.70" y1="357.90" x2="356.70" y2="357.90" stroke="#000" stroke-width="1.1" />
<line x1="386.10" y1="347.20" x2="386.10" y2="372.40" stroke="#000" stroke-width="1.1" />
<line x1="380.60" y1="347.20" x2="391.60" y2="347.20" stroke="#000" stroke-width="1.1" />
<line x1="380.60" y1="372.40" x2="391.60" y2="372.40" stroke="#000" stroke-width="1.1" />
<circle cx="272.00" cy="356.00" r="2.05" fill="#a8082a" stroke="none" stroke-width="0"/>
<circle cx="272.00" cy="360.30" r="2.05" fill="#a8082a" stroke="none" stroke-width="0"/>
<circle cx="276.60" cy="350.60" r="2.05" fill="#a8082a" stroke="none" stroke-width="0"/>
<circle cx="276.60" cy="360.30" r="2.05" fill="#a8082a" stroke="none" stroke-width="0"/>
<circle cx="281.30" cy="351.00" r="2.05" fill="#a8082a" stroke="none" stroke-width="0"/>
<circle cx="281.30" cy="363.00" r="2.05" fill="#a8082a" stroke="none" stroke-width="0"/>
<circle cx="285.60" cy="353.00" r="2.05" fill="#a8082a" stroke="none" stroke-width="0"/>
<circle cx="285.60" cy="363.00" r="2.05" fill="#a8082a" stroke="none" stroke-width="0"/>
<circle cx="290.10" cy="353.30" r="2.05" fill="#a8082a" stroke="none" stroke-width="0"/>
<circle cx="290.10" cy="363.90" r="2.05" fill="#a8082a" stroke="none" stroke-width="0"/>
<circle cx="312.20" cy="334.30" r="2.05" fill="#a8082a" stroke="none" stroke-width="0"/>
<circle cx="320.00" cy="335.50" r="2.05" fill="#a8082a" stroke="none" stroke-width="0"/>
<circle cx="316.10" cy="339.40" r="2.05" fill="#a8082a" stroke="none" stroke-width="0"/>
<circle cx="306.80" cy="346.40" r="2.05" fill="#a8082a" stroke="none" stroke-width="0"/>
<circle cx="310.70" cy="346.80" r="2.05" fill="#a8082a" stroke="none" stroke-width="0"/>
<circle cx="316.10" cy="345.60" r="2.05" fill="#a8082a" stroke="none" stroke-width="0"/>
<circle cx="318.40" cy="344.00" r="2.05" fill="#a8082a" stroke="none" stroke-width="0"/>
<circle cx="322.00" cy="344.40" r="2.05" fill="#a8082a" stroke="none" stroke-width="0"/>
<circle cx="325.70" cy="345.30" r="2.05" fill="#a8082a" stroke="none" stroke-width="0"/>
<circle cx="312.20" cy="353.70" r="2.05" fill="#a8082a" stroke="none" stroke-width="0"/>
<circle cx="316.10" cy="354.60" r="2.05" fill="#a8082a" stroke="none" stroke-width="0"/>
<circle cx="318.00" cy="354.90" r="2.05" fill="#a8082a" stroke="none" stroke-width="0"/>
<circle cx="320.70" cy="355.20" r="2.05" fill="#a8082a" stroke="none" stroke-width="0"/>
<circle cx="351.60" cy="327.60" r="2.05" fill="#a8082a" stroke="none" stroke-width="0"/>
<circle cx="345.00" cy="340.80" r="2.05" fill="#a8082a" stroke="none" stroke-width="0"/>
<circle cx="357.10" cy="345.30" r="2.05" fill="#a8082a" stroke="none" stroke-width="0"/>
<circle cx="345.00" cy="349.00" r="2.05" fill="#a8082a" stroke="none" stroke-width="0"/>
<circle cx="357.10" cy="352.60" r="2.05" fill="#a8082a" stroke="none" stroke-width="0"/>
<circle cx="351.60" cy="362.30" r="2.05" fill="#a8082a" stroke="none" stroke-width="0"/>
<circle cx="378.50" cy="348.50" r="2.05" fill="#a8082a" stroke="none" stroke-width="0"/>
<circle cx="386.40" cy="347.20" r="2.05" fill="#a8082a" stroke="none" stroke-width="0"/>
<circle cx="394.20" cy="348.50" r="2.05" fill="#a8082a" stroke="none" stroke-width="0"/>
<circle cx="382.50" cy="353.10" r="2.05" fill="#a8082a" stroke="none" stroke-width="0"/>
<circle cx="390.40" cy="358.70" r="2.05" fill="#a8082a" stroke="none" stroke-width="0"/>
<circle cx="378.80" cy="370.90" r="2.05" fill="#a8082a" stroke="none" stroke-width="0"/>
<circle cx="386.40" cy="374.90" r="2.05" fill="#a8082a" stroke="none" stroke-width="0"/>
<circle cx="394.20" cy="376.70" r="2.05" fill="#a8082a" stroke="none" stroke-width="0"/>
<line x1="257.50" y1="274.60" x2="257.50" y2="378.60" stroke="#1c1c1c" stroke-width="1.3" />
<line x1="256.90" y1="378.00" x2="413.00" y2="378.00" stroke="#1c1c1c" stroke-width="1.3" />
<line x1="255.30" y1="378.00" x2="257.50" y2="378.00" stroke="#1c1c1c" stroke-width="0.9" />
<text class="b" x="252.10" y="380.55" font-size="7.1" text-anchor="end" font-weight="normal" fill="#111" >0</text>
<line x1="255.30" y1="357.85" x2="257.50" y2="357.85" stroke="#1c1c1c" stroke-width="0.9" />
<text class="b" x="252.10" y="360.40" font-size="7.1" text-anchor="end" font-weight="normal" fill="#111" >1</text>
<line x1="255.30" y1="337.70" x2="257.50" y2="337.70" stroke="#1c1c1c" stroke-width="0.9" />
<text class="b" x="252.10" y="340.25" font-size="7.1" text-anchor="end" font-weight="normal" fill="#111" >2</text>
<line x1="255.30" y1="317.55" x2="257.50" y2="317.55" stroke="#1c1c1c" stroke-width="0.9" />
<text class="b" x="252.10" y="320.10" font-size="7.1" text-anchor="end" font-weight="normal" fill="#111" >3</text>
<line x1="255.30" y1="297.40" x2="257.50" y2="297.40" stroke="#1c1c1c" stroke-width="0.9" />
<text class="b" x="252.10" y="299.95" font-size="7.1" text-anchor="end" font-weight="normal" fill="#111" >4</text>
<line x1="255.30" y1="277.25" x2="257.50" y2="277.25" stroke="#1c1c1c" stroke-width="0.9" />
<text class="b" x="252.10" y="279.80" font-size="7.1" text-anchor="end" font-weight="normal" fill="#111" >5</text>
<line x1="281.30" y1="378.00" x2="281.30" y2="380.40" stroke="#1c1c1c" stroke-width="0.9" />
<line x1="316.20" y1="378.00" x2="316.20" y2="380.40" stroke="#1c1c1c" stroke-width="0.9" />
<line x1="351.20" y1="378.00" x2="351.20" y2="380.40" stroke="#1c1c1c" stroke-width="0.9" />
<line x1="386.10" y1="378.00" x2="386.10" y2="380.40" stroke="#1c1c1c" stroke-width="0.9" />
<path d="M279.00,327.50 L279.00,325.50 L318.00,325.50 L318.00,327.50" fill="none" stroke="#222" stroke-width="0.9"/>
<text class="b" x="298.50" y="322.00" font-size="7.3" text-anchor="middle" font-weight="normal" fill="#111" >p=&lt;0.001</text>
<path d="M316.00,295.50 L316.00,293.50 L390.40,293.50 L390.40,295.50" fill="none" stroke="#222" stroke-width="0.9"/>
<text class="b" x="353.20" y="290.00" font-size="7.3" text-anchor="middle" font-weight="normal" fill="#111" >p=0.03</text>
<path d="M349.40,321.40 L349.40,319.40 L387.50,319.40 L387.50,321.40" fill="none" stroke="#222" stroke-width="0.9"/>
<text class="b" x="368.45" y="315.60" font-size="7.3" text-anchor="middle" font-weight="normal" fill="#111" >p=0.07</text>
<text class="b" transform="translate(285.90,387.0) rotate(-45)" font-size="8.0" text-anchor="end" fill="#111">Non-SCD</text>
<text class="b" transform="translate(320.80,387.0) rotate(-45)" font-size="8.0" text-anchor="end" fill="#111">SCD</text>
<text class="b" transform="translate(355.80,387.0) rotate(-45)" font-size="8.0" text-anchor="end" fill="#111">SCD + IgG</text>
<text class="b" transform="translate(388.10,387.6) rotate(-45)" font-size="7.9" text-anchor="end" fill="#111">SCD + anti-P-selectin</text>
<text class="b" transform="translate(374.10,416.2) rotate(-45)" font-size="7.9" text-anchor="end" fill="#111">mAb</text>
<text class="b" transform="translate(231.60,325.60) rotate(-90)" font-size="8.6" text-anchor="middle" font-weight="normal" fill="#111" textLength="74.2" lengthAdjust="spacingAndGlyphs">Femurs SUVr fold-change</text>
<text class="b" transform="translate(242.20,325.60) rotate(-90)" font-size="8.6" text-anchor="middle" font-weight="normal" fill="#111" textLength="45.0" lengthAdjust="spacingAndGlyphs">(LPS/baseline)</text>
<text x="217.00" y="272.10" font-size="11" text-anchor="start" font-weight="bold" fill="#000" >J</text>
<rect x="0.5" y="0.5" width="519" height="451" fill="none" stroke="#000" stroke-width="1"/>
</svg>
</body></html>
